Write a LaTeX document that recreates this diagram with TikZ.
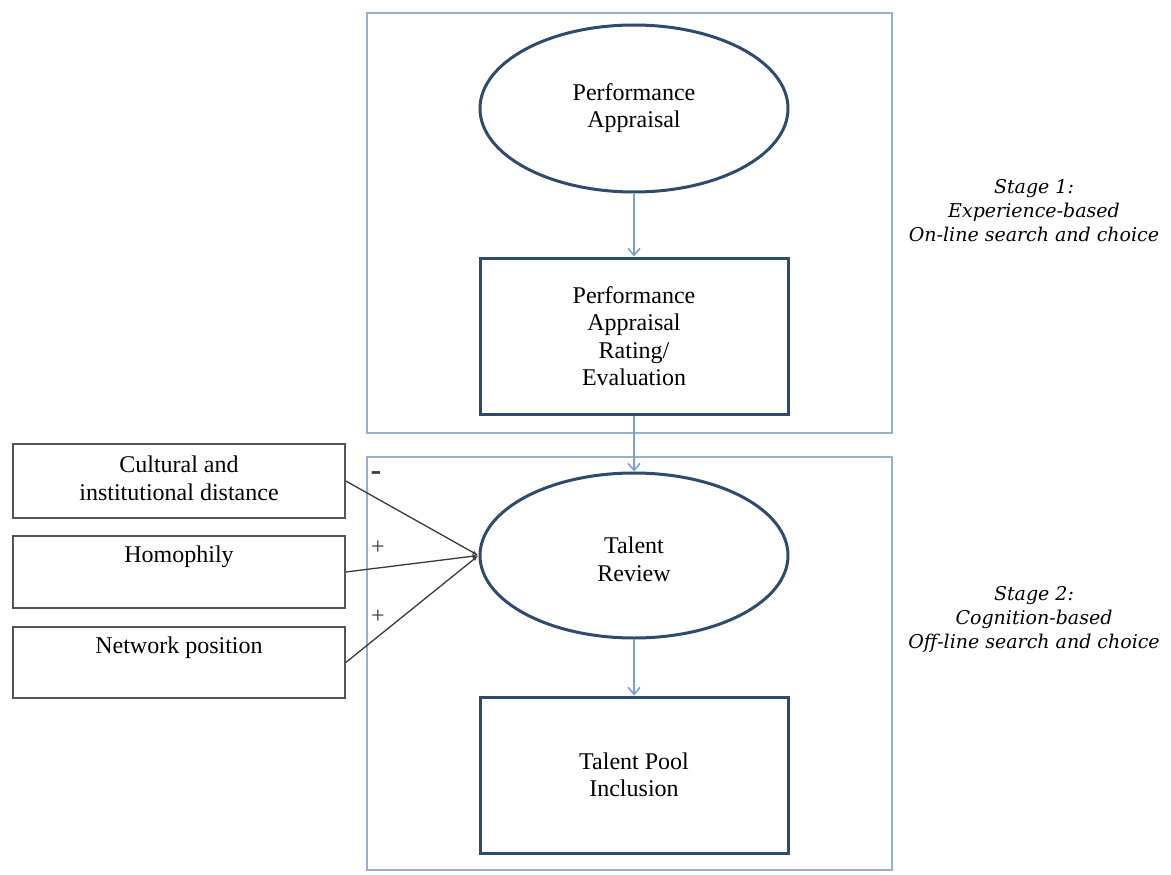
\documentclass[tikz,border=0pt]{standalone}
\usepackage{fontspec}
\setmainfont{Liberation Serif}
\newfontfamily\stagefont{DejaVu Serif}
\usetikzlibrary{arrows.meta,shapes.geometric}

\definecolor{framecol}{HTML}{9AAFD0}
\definecolor{navy}{HTML}{2F4A6C}
\definecolor{flowcol}{HTML}{7F9CCF}
\definecolor{boxgrey}{HTML}{555555}
\definecolor{linegrey}{HTML}{3A3A3A}

\tikzset{
  stageframe/.style={draw=framecol, line width=1.6pt, minimum width=525pt},
  oval/.style={ellipse, draw=navy, line width=3pt, minimum width=308pt,
    inner sep=0pt, align=center, font=\fontsize{24}{27}\selectfont},
  stepbox/.style={rectangle, draw=navy, line width=3pt, minimum width=308pt,
    minimum height=156pt, inner sep=0pt, align=center,
    font=\fontsize{24}{27.5}\selectfont},
  factor/.style={rectangle, draw=boxgrey, line width=1.6pt,
    minimum width=332pt, inner sep=0pt},
  factortext/.style={align=center, inner sep=0pt,
    font=\fontsize{24}{28}\selectfont},
  flow/.style={draw=flowcol, line width=1.5pt,
    -{Straight Barb[length=7pt,width=12pt]}},
  effect/.style={draw=linegrey, line width=1.3pt,
    -{Latex[length=6pt,width=4pt]}},
  sign/.style={inner sep=0pt, text=linegrey, font=\fontsize{24}{24}\selectfont},
  stagetext/.style={align=center, inner sep=0pt,
    font=\stagefont\itshape\fontsize{19}{24}\selectfont}
}

\begin{document}
\begin{tikzpicture}[x=1pt,y=-1pt]
\useasboundingbox[fill=white] (0,0) rectangle (1171,875);

% the two stage frames
\node[stageframe, minimum height=420pt] (frame1) at (629.5,223) {};
\node[stageframe, minimum height=413pt] (frame2) at (629.5,663.5) {};

% stage 1
\node[oval, minimum height=167pt] (pa) at (634,108.5) {Performance\\Appraisal};
\node[stepbox] (rating) at (634,336) {Performance\\Appraisal\\Rating/\\Evaluation};

% stage 2
\node[oval, minimum height=165pt] (review) at (634,555.5) {};
\node[factortext] (reviewtext) at (634,559) {Talent\\Review};
\node[stepbox] (pool) at (634,775) {Talent Pool\\Inclusion};

% antecedent factors
\node[factor, minimum height=74pt] (cult) at (179,481)
  {\fontsize{24}{28}\selectfont\begin{tabular}{@{}c@{}}Cultural and\\institutional distance\end{tabular}};
\node[factor, minimum height=72pt] (homo) at (179,572) {};
\node[factortext] (homotext) at (179,557) {Homophily};
\node[factor, minimum height=71pt] (net) at (179,662.5) {};
\node[factortext] (nettext) at (179,648) {Network position};

% flow between the steps
\draw[flow] (pa.south) -- (rating.north);
\draw[flow] (rating.south) -- (review.north);
\draw[flow] (review.south) -- (pool.north);

% effects on the talent review
\draw[effect] (cult.east) -- (review.west);
\draw[effect] (homo.east) -- (review.west);
\draw[effect] (net.east) -- (review.west);

\node[sign, font=\bfseries\fontsize{32}{32}\selectfont] (minus) at (376,476) {-};
\node[sign] (plus1) at (378,548) {+};
\node[sign] (plus2) at (378,617) {+};

% stage captions
\node[stagetext] (cap1) at (1034,211) {Stage 1:\\Experience-based\\On-line search and choice};
\node[stagetext] (cap2) at (1034,619) {Stage 2:\\Cognition-based\\Off-line search and choice};
\end{tikzpicture}
\end{document}
